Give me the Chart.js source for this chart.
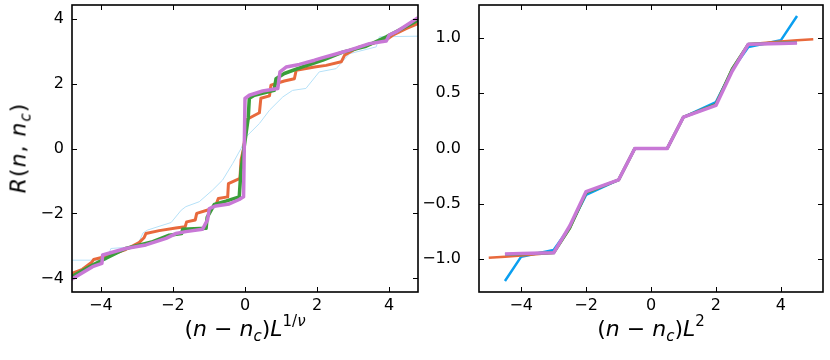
<!DOCTYPE html>
<html>
<head>
<meta charset="utf-8">
<script src="https://cdn.jsdelivr.net/npm/chart.js@4.4.0/dist/chart.umd.min.js"></script>
<style>
  body { margin: 0; background: #fff; }
  #wrap { position: relative; width: 830px; height: 360px; overflow: hidden; }
  canvas { position: absolute; top: 0; }
  .lbl { position: absolute; font-family: "DejaVu Sans", sans-serif; font-size: 22px; color: #000; white-space: nowrap; }
  .lbl i { font-style: oblique; }
  .lbl sub { font-size: 15px; vertical-align: -5px; line-height: 0; }
  .lbl sup { font-size: 15px; vertical-align: 10px; line-height: 0; }
</style>
</head>
<body>
<div id="wrap">
  <canvas id="left" width="420" height="360" style="left:0;width:420px;height:360px"></canvas>
  <canvas id="right" width="410" height="360" style="left:420px;width:410px;height:360px"></canvas>
  <div class="lbl" id="ylab" style="left:18px;top:148px;letter-spacing:1px;transform:translate(-50%,-50%) rotate(-90deg)"><i>R</i>(<i>n</i>, <i>n</i><sub><i>c</i></sub>)</div>
  <div class="lbl" style="left:245px;top:328px;transform:translate(-50%,-50%)">(<i>n</i> − <i>n</i><sub><i>c</i></sub>)<i>L</i><sup>1/<i>ν</i></sup></div>
  <div class="lbl" style="left:651px;top:328px;transform:translate(-50%,-50%)">(<i>n</i> − <i>n</i><sub><i>c</i></sub>)<i>L</i><sup>2</sup></div>
</div>
<script>
/* tick labels */
const leftXTicks = [-4, -2, 0, 2, 4];
const leftYTicks = [-4, -2, 0, 2, 4];
const rightXTicks = [-4, -2, 0, 2, 4];
const rightYTicks = [-1.0, -0.5, 0.0, 0.5, 1.0];

/* left panel: collapse with L^(1/nu), [x, y] */
const leftBlue = [[-4.81,-3.44],[-3.85,-3.44],[-3.72,-3.08],[-3.0,-3.02],[-2.83,-2.6],[-2.7,-2.51],[-2.05,-2.28],
  [-1.77,-1.9],[-1.64,-1.79],[-1.27,-1.64],[-0.9,-1.28],[-0.62,-0.97],[-0.34,-0.46],[-0.11,0.0],[0.03,0.36],
  [0.4,0.77],[0.68,1.18],[1.05,1.59],[1.32,1.79],[1.69,1.85],[2.06,2.36],[2.53,2.46],[2.9,2.92],[3.64,3.13],
  [3.73,3.44],[4.8,3.46]];
const leftOrange = [[-4.81,-3.85],[-4.51,-3.72],[-4.25,-3.5],[-4.2,-3.42],[-3.95,-3.35],[-3.31,-3.11],[-2.94,-2.9],
  [-2.8,-2.75],[-2.75,-2.62],[-2.38,-2.53],[-1.92,-2.45],[-1.66,-2.41],[-1.62,-2.26],[-1.38,-2.2],[-1.34,-2.0],
  [-0.99,-1.88],[-0.8,-1.72],[-0.74,-1.54],[-0.48,-1.49],[-0.46,-1.08],[-0.14,-0.92],[-0.11,-0.36],[-0.04,0.0],
  [0.06,0.9],[0.4,1.1],[0.44,1.55],[0.68,1.62],[0.72,1.95],[1.09,2.08],[1.37,2.15],[1.42,2.41],[1.93,2.51],
  [2.25,2.56],[2.67,2.67],[2.76,2.87],[3.0,3.03],[3.18,3.13],[3.92,3.35],[4.1,3.49],[4.47,3.69],[4.8,3.85]];
const leftGreen = [[-4.81,-3.95],[-4.23,-3.59],[-3.31,-3.08],[-2.56,-2.87],[-2.1,-2.67],[-1.76,-2.62],[-1.73,-2.49],
  [-1.08,-2.46],[-1.05,-2.12],[-0.85,-1.72],[-0.53,-1.62],[-0.16,-1.49],[-0.11,-0.65],[0.09,0.95],[0.12,1.55],
  [0.26,1.64],[0.81,1.79],[0.86,2.15],[1.09,2.31],[1.69,2.55],[2.16,2.72],[2.71,2.97],[3.36,3.15],[3.92,3.44],
  [4.8,3.95]];
const leftPurple = [[-4.81,-4.03],[-4.23,-3.64],[-3.97,-3.54],[-3.95,-3.28],[-3.31,-3.08],[-2.75,-2.97],[-2.19,-2.77],
  [-1.92,-2.62],[-1.64,-2.56],[-1.18,-2.49],[-1.04,-2.2],[-0.99,-1.85],[-0.81,-1.77],[-0.44,-1.71],[-0.16,-1.57],
  [-0.04,-1.49],[0.0,1.54],[0.12,1.64],[0.49,1.77],[0.91,1.85],[0.97,2.36],[1.14,2.51],[1.51,2.59],[1.93,2.72],
  [2.16,2.8],[2.62,2.94],[2.9,3.03],[3.18,3.13],[3.45,3.23],[3.92,3.31],[4.0,3.49],[4.19,3.59],[4.47,3.79],[4.8,4.03]];

/* right panel: collapse with L^2, [x, y] */
const rightBlue = [[-4.5,-1.2],[-4,-0.98],[-3,-0.92],[-2.5,-0.71],[-2,-0.42],[-1,-0.285],[-0.5,0],[0.5,0],
  [1,0.285],[2,0.42],[2.5,0.71],[3,0.92],[4,0.98],[4.5,1.2]];
const rightOrange = [[-5,-0.99],[-4.5,-0.98],[-4,-0.97],[-3,-0.945],[-2.5,-0.72],[-2,-0.4],[-1,-0.285],[-0.5,0],
  [0.5,0],[1,0.285],[2,0.4],[2.5,0.72],[3,0.945],[4,0.97],[4.5,0.98],[5,0.99]];
const rightGreen = [[-4.5,-0.96],[-4,-0.955],[-3,-0.945],[-2.5,-0.72],[-2,-0.4],[-1,-0.285],[-0.5,0],[0.5,0],
  [1,0.285],[2,0.4],[2.5,0.72],[3,0.945],[4,0.955],[4.5,0.96]];
const rightPurple = [[-4.5,-0.955],[-4,-0.952],[-3,-0.945],[-2.5,-0.7],[-2,-0.39],[-1,-0.285],[-0.5,0],[0.5,0],
  [1,0.285],[2,0.39],[2.5,0.7],[3,0.945],[4,0.952],[4.5,0.955]];

const BLUE = "#0a9ff0", LIGHTBLUE = "#b5e1f8", ORANGE = "#e8693c", GREEN = "#3a9e3a", PURPLE = "#c878d6";

function pts(arr) {
    return arr.map(p => ({ x: p[0], y: p[1] }));
}

function line(data, color, width) {
    return {
        data: pts(data),
        borderColor: color,
        borderWidth: width,
        showLine: true,
        pointRadius: 0,
        borderJoinStyle: "round",
        borderCapStyle: "butt"
    };
}

function minus(v, digits) {
    let s = digits ? Number(v).toFixed(digits) : String(v);
    return s.replace("-", "\u2212");
}

/* frame + inward ticks on all four sides */
const framePlugin = {
    id: "frame",
    afterDraw(chart) {
        const c = chart.ctx, a = chart.chartArea;
        const sx = chart.scales.x, sy = chart.scales.y;
        c.save();
        c.strokeStyle = "#000";
        c.lineWidth = 1;
        c.beginPath();
        sx.ticks.forEach(t => {
            const px = Math.round(sx.getPixelForValue(t.value)) + 0.5;
            c.moveTo(px, a.bottom); c.lineTo(px, a.bottom - 5);
            c.moveTo(px, a.top); c.lineTo(px, a.top + 5);
        });
        sy.ticks.forEach(t => {
            const py = Math.round(sy.getPixelForValue(t.value)) + 0.5;
            c.moveTo(a.left, py); c.lineTo(a.left + 5, py);
            c.moveTo(a.right, py); c.lineTo(a.right - 5, py);
        });
        c.stroke();
        c.lineWidth = 1.6;
        c.strokeRect(a.left, a.top, a.right - a.left, a.bottom - a.top);
        c.restore();
    }
};

function makeChart(id, datasets, xr, yr, xt, yt, yw, padRight, ydigits, ypad) {
    return new Chart(document.getElementById(id), {
        type: "scatter",
        data: { datasets: datasets },
        options: {
            responsive: false,
            animation: false,
            layout: { padding: { left: 0, right: padRight, top: 5, bottom: 0 } },
            plugins: { legend: { display: false }, tooltip: { enabled: false } },
            scales: {
                x: {
                    type: "linear", min: xr[0], max: xr[1],
                    grid: { display: false, drawTicks: false }, border: { display: false },
                    afterBuildTicks: s => { s.ticks = xt.map(v => ({ value: v })); },
                    afterFit: s => { s.height = 68; s.paddingLeft = 0; s.paddingRight = 0; },
                    ticks: {
                        color: "#000", padding: 4, maxRotation: 0,
                        font: { family: "DejaVu Sans", size: 16 },
                        callback: v => minus(v, 0)
                    }
                },
                y: {
                    type: "linear", min: yr[0], max: yr[1],
                    grid: { display: false, drawTicks: false }, border: { display: false },
                    afterBuildTicks: s => { s.ticks = yt.map(v => ({ value: v })); },
                    afterFit: s => { s.width = yw; s.paddingTop = 0; s.paddingBottom = 0; },
                    ticks: {
                        color: "#000", padding: ypad,
                        font: { family: "DejaVu Sans", size: 16 },
                        callback: v => minus(v, ydigits)
                    }
                }
            }
        },
        plugins: [framePlugin]
    });
}

makeChart("left", [
    line(leftPurple, PURPLE, 3.5),
    line(leftGreen, GREEN, 3.5),
    line(leftOrange, ORANGE, 3),
    line(leftBlue, LIGHTBLUE, 1)
], [-4.8, 4.8], [-4.42, 4.42], leftXTicks, leftYTicks, 72, 2, 0, 8);

makeChart("right", [
    line(rightPurple, PURPLE, 3.5),
    line(rightGreen, GREEN, 3),
    line(rightOrange, ORANGE, 2.5),
    line(rightBlue, BLUE, 2.5)
], [-5.3, 5.3], [-1.3, 1.3], rightXTicks, rightYTicks, 59, 7, 1, 18);
</script>
</body>
</html>
